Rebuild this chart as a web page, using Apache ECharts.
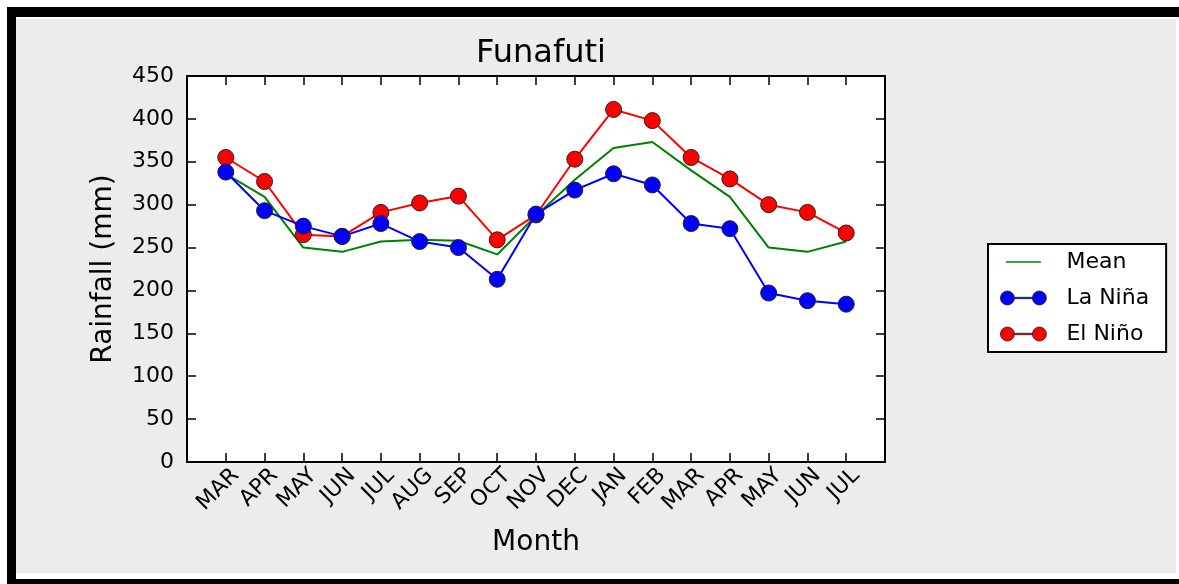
<!DOCTYPE html>
<html>
<head>
<meta charset="utf-8">
<title>Funafuti rainfall</title>
<script src="https://cdn.jsdelivr.net/npm/echarts@6/dist/echarts.min.js"></script>
<style>
  html, body { margin: 0; padding: 0; background: #fff; }
  #chart { width: 1179px; height: 584px; }
</style>
</head>
<body>
<div id="chart"></div>
<script>
// Month labels along the x axis (March through the following July)
const months = ['MAR', 'APR', 'MAY', 'JUN', 'JUL', 'AUG', 'SEP', 'OCT', 'NOV',
                'DEC', 'JAN', 'FEB', 'MAR', 'APR', 'MAY', 'JUN', 'JUL'];

// Monthly rainfall (mm)
const meanRain   = [336, 309, 250, 245, 257, 259, 258, 242, 287, 329, 366, 373, 340, 309, 250, 245, 257];
const laNinaRain = [338, 293, 275, 263, 278, 257, 250, 213, 289, 317, 336, 323, 278, 272, 197, 188, 184];
const elNinoRain = [355, 327, 265, 263, 291, 302, 310, 259, 288, 353, 411, 398, 355, 330, 300, 291, 267];

// Y axis ticks
const yTicks = [0, 50, 100, 150, 200, 250, 300, 350, 400, 450];

const FONT = 'DejaVu Sans';
const toPoints = arr => arr.map((v, i) => [i, v]);

// Legend icons: a line, or a line joining two markers
const iconMean   = 'path://M0,0M61,14M5.5,6.3h35v1.4h-35z';
const iconMarker = 'path://M0,0M61,14M0,7a7,7 0 1,0 14,0a7,7 0 1,0 -14,0M32,7a7,7 0 1,0 14,0a7,7 0 1,0 -14,0M14,6.3h18v1.4h-18z';

const chart = echarts.init(document.getElementById('chart'), null, { renderer: 'canvas' });

const tickStyle = { show: true, inside: true, length: 9, lineStyle: { color: '#000', width: 1.5 } };
const xCommon = {
  type: 'value',
  min: -1,
  max: 17,
  interval: 1,
  splitLine: { show: false },
  axisLine: { show: false, onZero: false },
  axisTick: tickStyle
};
const yCommon = {
  type: 'value',
  min: yTicks[0],
  max: yTicks[yTicks.length - 1],
  interval: yTicks[1] - yTicks[0],
  splitLine: { show: false },
  axisLine: { show: false, onZero: false },
  axisTick: tickStyle
};

chart.setOption({
  animation: false,
  backgroundColor: '#fff',
  textStyle: { fontFamily: FONT },
  graphic: [
    { type: 'rect', z: -100, shape: { x: 16, y: 19, width: 1160, height: 554 }, style: { fill: '#ececec' } },
    { type: 'rect', z: -100, shape: { x: 7, y: 7, width: 1172, height: 10 }, style: { fill: '#000' } },
    { type: 'rect', z: -100, shape: { x: 7, y: 7, width: 9, height: 577 }, style: { fill: '#000' } },
    { type: 'rect', z: -100, shape: { x: 7, y: 579, width: 1172, height: 5 }, style: { fill: '#000' } }
  ],
  title: {
    text: 'Funafuti',
    left: 536,
    top: 33,
    textAlign: 'center',
    textStyle: { fontFamily: FONT, fontSize: 32, fontWeight: 'normal', color: '#000' }
  },
  grid: {
    left: 187, top: 76, right: 294, bottom: 122,
    show: true,
    backgroundColor: '#fff',
    borderColor: '#000',
    borderWidth: 2
  },
  legend: {
    orient: 'vertical',
    left: 988,
    top: 244,
    padding: [7, 17, 7, 12],
    itemGap: 14,
    itemWidth: 61,
    itemHeight: 14,
    backgroundColor: '#fff',
    borderColor: '#000',
    borderWidth: 2,
    borderRadius: 0,
    textStyle: { fontFamily: FONT, fontSize: 22, color: '#000' },
    data: [
      { name: 'Mean', icon: iconMean, itemStyle: { color: '#008000', borderWidth: 0 } },
      { name: 'La Niña', icon: iconMarker, itemStyle: { color: '#0000ff', borderColor: '#222', borderWidth: 0.8 } },
      { name: 'El Niño', icon: iconMarker, itemStyle: { color: '#ff0000', borderColor: '#222', borderWidth: 0.8 } }
    ]
  },
  xAxis: [
    Object.assign({}, xCommon, {
      position: 'bottom',
      name: 'Month',
      nameLocation: 'middle',
      nameGap: 67,
      nameTextStyle: { fontFamily: FONT, fontSize: 28, color: '#000' },
      axisLabel: {
        rotate: 45,
        margin: 20,
        align: 'right',
        verticalAlign: 'middle',
        padding: [0, -14, 0, 0],
        fontFamily: FONT,
        fontSize: 22,
        color: '#000',
        showMinLabel: false,
        showMaxLabel: false,
        formatter: v => (Number.isInteger(v) && v >= 0 && v < months.length) ? months[v] : ''
      }
    }),
    Object.assign({}, xCommon, {
      position: 'top',
      axisLabel: { show: false }
    })
  ],
  yAxis: [
    Object.assign({}, yCommon, {
      position: 'left',
      name: 'Rainfall (mm)',
      nameLocation: 'middle',
      nameGap: 69,
      nameTextStyle: { fontFamily: FONT, fontSize: 28, color: '#000' },
      axisLabel: { margin: 13, fontFamily: FONT, fontSize: 22, color: '#000' }
    }),
    Object.assign({}, yCommon, {
      position: 'right',
      axisLabel: { show: false }
    })
  ],
  series: [
    {
      name: 'Mean',
      type: 'line',
      z: 2,
      data: toPoints(meanRain),
      symbol: 'none',
      lineStyle: { color: '#008000', width: 2 },
      itemStyle: { color: '#008000' }
    },
    {
      name: 'El Niño',
      type: 'line',
      z: 3,
      data: toPoints(elNinoRain),
      symbol: 'circle',
      symbolSize: 16,
      lineStyle: { color: '#ff0000', width: 2 },
      itemStyle: { color: '#ff0000', borderColor: '#222', borderWidth: 1 }
    },
    {
      name: 'La Niña',
      type: 'line',
      z: 4,
      data: toPoints(laNinaRain),
      symbol: 'circle',
      symbolSize: 16,
      lineStyle: { color: '#0000ff', width: 2 },
      itemStyle: { color: '#0000ff', borderColor: '#222', borderWidth: 1 }
    }
  ]
});
</script>
</body>
</html>
